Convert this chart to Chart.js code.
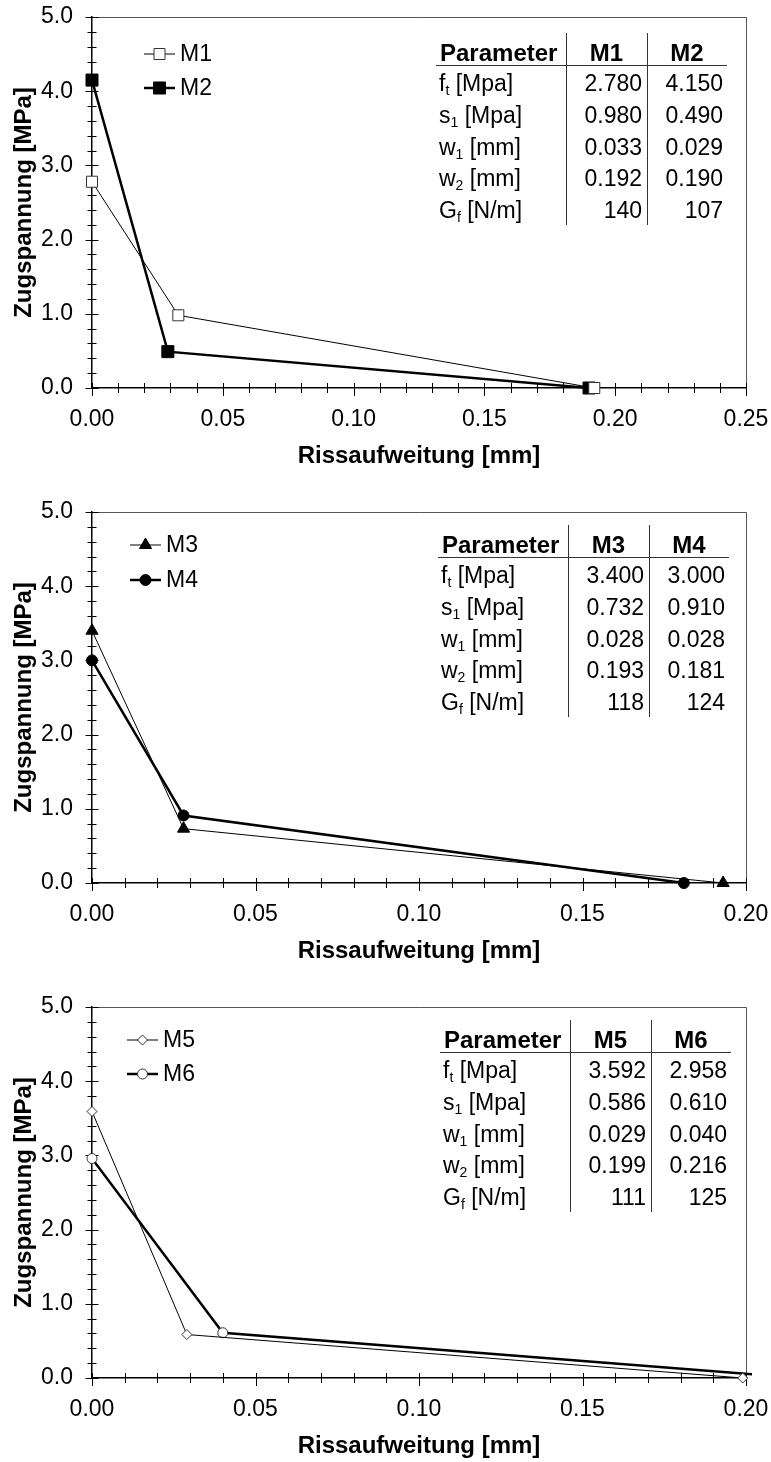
<!DOCTYPE html>
<html lang="de">
<head>
<meta charset="utf-8">
<title>Zugspannung – Rissaufweitung</title>
<script src="https://cdn.jsdelivr.net/npm/chart.js@4.4.1/dist/chart.umd.min.js"></script>
<style>
  html, body { margin: 0; padding: 0; background: #fff; }
  body { width: 771px; height: 1462px; overflow: hidden; }
  canvas { display: block; }
</style>
</head>
<body>
<canvas id="chart-m1m2" width="771" height="495"></canvas>
<canvas id="chart-m3m4" width="771" height="495"></canvas>
<canvas id="chart-m5m6" width="771" height="495"></canvas>
<script>
// Bilinear softening curves: (0, ft) -> (w1, s1) -> (w2, 0)
// parameter order: ft [MPa], s1 [MPa], w1 [mm], w2 [mm], Gf [N/m]
const paramsM1 = [2.780, 0.980, 0.033, 0.192, 140];
const paramsM2 = [4.150, 0.490, 0.029, 0.190, 107];
const paramsM3 = [3.400, 0.732, 0.028, 0.193, 118];
const paramsM4 = [3.000, 0.910, 0.028, 0.181, 124];
const paramsM5 = [3.592, 0.586, 0.029, 0.199, 111];
const paramsM6 = [2.958, 0.610, 0.040, 0.216, 125];

// row captions of the parameter table: symbol, subscript, unit
const paramRows = [
  ['f', 't', ' [Mpa]'],
  ['s', '1', ' [Mpa]'],
  ['w', '1', ' [mm]'],
  ['w', '2', ' [mm]'],
  ['G', 'f', ' [N/m]'],
];

// axis ranges
const xMaxTop = 0.25;
const xMaxOthers = 0.20;
const yMax = 5.0;

const FONT = "'Liberation Sans', Arial, Helvetica, sans-serif";
Chart.defaults.font.family = FONT;
Chart.defaults.color = '#000';

const curvePoints = (p) => [
  { x: 0, y: p[0] },
  { x: p[2], y: p[1] },
  { x: p[3], y: 0 },
];

const formatParam = (v, i) => (i < 4 ? v.toFixed(3) : String(v));

// thin line with open/filled marker, or thick line
const makeDataset = (label, params, style) => ({
  label,
  data: curvePoints(params),
  params,
  borderColor: '#000',
  borderWidth: style.thick ? 2.5 : 1,
  pointStyle: style.pointStyle,
  pointRadius: style.radius,
  pointHoverRadius: style.radius,
  pointBackgroundColor: style.open ? '#fff' : '#000',
  pointBorderColor: style.open ? '#333' : '#000',
  pointBorderWidth: 1,
  tension: 0,
  clip: { left: 10, top: 10, right: 6, bottom: 12 },
});

// keep the plot area fixed: no extra room for edge labels
const fixSize = (w, h) => (scale) => {
  if (w) scale.width = w;
  if (h) scale.height = h;
  scale.paddingLeft = 0;
  scale.paddingRight = 0;
  scale.paddingTop = 0;
  scale.paddingBottom = 0;
};

// crossing tick marks and the grey frame around the plot
const axisTicks = {
  id: 'axisTicks',
  beforeDatasetsDraw(chart) {
    const { ctx, chartArea: a, scales: { x, y } } = chart;
    ctx.save();
    ctx.strokeStyle = '#555';
    ctx.lineWidth = 1;
    ctx.beginPath();
    ctx.moveTo(a.left, a.top + 0.5);
    ctx.lineTo(a.right + 0.5, a.top + 0.5);
    ctx.lineTo(a.right + 0.5, a.bottom);
    ctx.stroke();

    ctx.strokeStyle = '#000';
    ctx.beginPath();
    x.ticks.forEach((t) => {
      const px = Math.round(x.getPixelForValue(t.value)) + 0.5;
      const major = t.label !== '';
      ctx.moveTo(px, a.bottom - 5);
      ctx.lineTo(px, a.bottom + (major ? 8 : 5));
    });
    y.ticks.forEach((t) => {
      const py = Math.round(y.getPixelForValue(t.value)) + 0.5;
      const len = t.label !== '' ? 6.5 : 4.5;
      ctx.moveTo(a.left - len, py);
      ctx.lineTo(a.left + len, py);
    });
    ctx.stroke();
    ctx.restore();
  },
};

// legend drawn from the dataset styles
const curveLegend = {
  id: 'curveLegend',
  afterDraw(chart, args, opts) {
    const { ctx } = chart;
    chart.data.datasets.forEach((ds, i) => {
      const yy = opts.y + i * opts.gap;
      ctx.save();
      ctx.strokeStyle = ds.borderColor;
      ctx.lineWidth = ds.borderWidth;
      ctx.beginPath();
      ctx.moveTo(opts.x, yy);
      ctx.lineTo(opts.x + 31, yy);
      ctx.stroke();
      ctx.fillStyle = ds.pointBackgroundColor;
      ctx.strokeStyle = ds.pointBorderColor;
      ctx.lineWidth = ds.pointBorderWidth;
      Chart.helpers.drawPoint(ctx, {
        pointStyle: ds.pointStyle,
        radius: ds.pointRadius,
        rotation: 0,
        borderWidth: ds.pointBorderWidth,
      }, opts.x + 15.5, yy);
      ctx.fillStyle = '#000';
      ctx.font = `23px ${FONT}`;
      ctx.textAlign = 'left';
      ctx.textBaseline = 'middle';
      ctx.fillText(ds.label, opts.x + 36, yy + 1);
      ctx.restore();
    });
  },
};

// parameter table in the upper right of the plot
const paramTable = {
  id: 'paramTable',
  afterDraw(chart, args, o) {
    const { ctx } = chart;
    const [a, b] = chart.data.datasets;
    const d1 = o.x;
    const d2 = o.x + 81;
    const ul = o.y;
    ctx.save();
    ctx.strokeStyle = '#333';
    ctx.lineWidth = 1;
    ctx.beginPath();
    ctx.moveTo(d1 - 130, ul + 0.5);
    ctx.lineTo(d1 + 161, ul + 0.5);
    ctx.moveTo(d1 + 0.5, ul - 32);
    ctx.lineTo(d1 + 0.5, ul + 160);
    ctx.moveTo(d2 + 0.5, ul - 32);
    ctx.lineTo(d2 + 0.5, ul + 160);
    ctx.stroke();

    ctx.fillStyle = '#000';
    ctx.textBaseline = 'alphabetic';
    ctx.font = `bold 24px ${FONT}`;
    ctx.textAlign = 'left';
    ctx.fillText('Parameter', d1 - 126, ul - 4);
    ctx.textAlign = 'center';
    ctx.fillText(a.label, (d1 + d2) / 2, ul - 4);
    ctx.fillText(b.label, d2 + 40, ul - 4);

    paramRows.forEach((row, i) => {
      const base = ul + 26 + i * 31.8;
      let cx = d1 - 127;
      ctx.textAlign = 'left';
      ctx.font = `23px ${FONT}`;
      ctx.fillText(row[0], cx, base);
      cx += ctx.measureText(row[0]).width;
      ctx.font = `14px ${FONT}`;
      ctx.fillText(row[1], cx, base + 4);
      cx += ctx.measureText(row[1]).width;
      ctx.font = `23px ${FONT}`;
      ctx.fillText(row[2], cx, base);

      ctx.textAlign = 'right';
      ctx.fillText(formatParam(a.params[i], i), d2 - 5, base);
      ctx.fillText(formatParam(b.params[i], i), d2 + 76, base);
    });
    ctx.restore();
  },
};

const makeChart = (id, xMax, datasets, legendPos, tablePos) => {
  const ctx = document.getElementById(id);
  if (!ctx) return null;
  return new Chart(ctx, {
    type: 'line',
    data: { datasets },
    options: {
      responsive: false,
      devicePixelRatio: 1,
      animation: false,
      events: [],
      layout: {
        padding: {
          top: 17, right: 25, bottom: 0, left: 0,
        },
      },
      scales: {
        x: {
          type: 'linear',
          min: 0,
          max: xMax,
          afterFit: fixSize(0, 107),
          grid: { display: false, drawTicks: false },
          border: { display: true, color: '#000', width: 1.5 },
          ticks: {
            stepSize: 0.01,
            autoSkip: false,
            maxRotation: 0,
            minRotation: 0,
            padding: 18,
            font: { size: 23 },
            callback: (v) => {
              const n = Math.round(v * 100);
              return n % 5 === 0 ? (n / 100).toFixed(2) : '';
            },
          },
          title: {
            display: true,
            text: 'Rissaufweitung [mm]',
            font: { size: 24, weight: 'bold' },
            padding: { top: 0, bottom: 24 },
          },
        },
        y: {
          type: 'linear',
          min: 0,
          max: yMax,
          afterFit: fixSize(92, 0),
          grid: { display: false, drawTicks: false },
          border: { display: true, color: '#000', width: 1.5 },
          ticks: {
            stepSize: 0.2,
            autoSkip: false,
            padding: 19,
            font: { size: 23 },
            callback: (v) => {
              const n = Math.round(v * 10);
              return n % 10 === 0 ? (n / 10).toFixed(1) : '';
            },
          },
          title: {
            display: true,
            text: 'Zugspannung [MPa]',
            font: { size: 24, weight: 'bold' },
            padding: { top: 10, bottom: 0 },
          },
        },
      },
      plugins: {
        legend: { display: false },
        tooltip: { enabled: false },
        curveLegend: legendPos,
        paramTable: tablePos,
      },
    },
    plugins: [axisTicks, curveLegend, paramTable],
  });
};

makeChart('chart-m1m2', xMaxTop, [
  makeDataset('M1', paramsM1, { pointStyle: 'rect', radius: 7.8, open: true }),
  makeDataset('M2', paramsM2, { pointStyle: 'rect', radius: 8.5, thick: true }),
], { x: 144, y: 54, gap: 34 }, { x: 566, y: 65 });

makeChart('chart-m3m4', xMaxOthers, [
  makeDataset('M3', paramsM3, { pointStyle: 'triangle', radius: 7 }),
  makeDataset('M4', paramsM4, { pointStyle: 'circle', radius: 5.5, thick: true }),
], { x: 130, y: 50, gap: 35 }, { x: 568, y: 62 });

makeChart('chart-m5m6', xMaxOthers, [
  makeDataset('M5', paramsM5, { pointStyle: 'rectRot', radius: 5, open: true }),
  makeDataset('M6', paramsM6, { pointStyle: 'circle', radius: 5, open: true, thick: true }),
], { x: 127, y: 50, gap: 34 }, { x: 570, y: 62 });
</script>
</body>
</html>
